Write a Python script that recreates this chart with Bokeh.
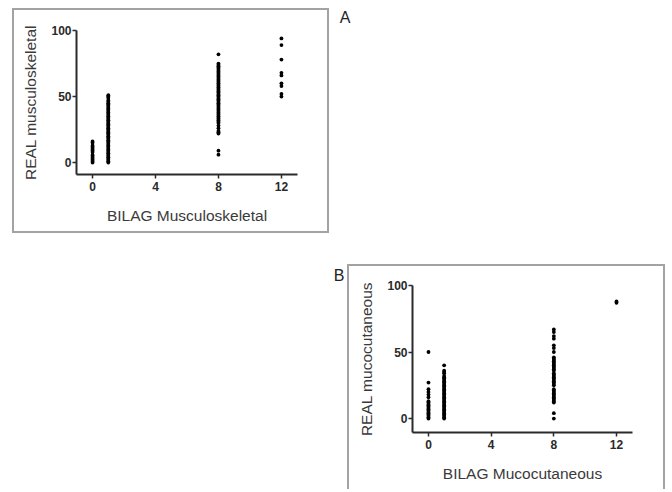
from bokeh.plotting import figure
from bokeh.layouts import column, row
from bokeh.models import Spacer, FixedTicker, ColumnDataSource
from bokeh.embed import file_html
from bokeh.resources import INLINE

FONT = "Liberation Sans"

# ---------------- Data ----------------
# Panel A: REAL musculoskeletal score for each BILAG Musculoskeletal grade
a_grades = [0, 1, 8, 12]
a_real_g0 = [0, 1, 2, 3, 4, 5, 6, 8, 9, 10, 11, 12, 13, 15, 16]
a_real_g1 = [0, 1, 2, 3, 4, 5, 6, 7, 8, 9, 10, 11, 12, 13, 14, 15, 16, 17, 18, 19,
             20, 21, 22, 23, 24, 25, 26, 27, 28, 29, 30, 31, 32, 33, 34, 35, 36, 37,
             38, 39, 40, 41, 42, 43, 44, 45, 46, 47, 49, 50, 51]
a_real_g8 = [6, 9, 22, 23, 24, 26, 28, 30, 31, 32, 33, 34, 35, 36, 37, 38, 39, 40,
             41, 42, 43, 44, 45, 46, 47, 48, 49, 50, 51, 52, 53, 54, 55, 56, 57, 58,
             59, 60, 61, 62, 63, 64, 65, 66, 67, 68, 69, 70, 71, 72, 73, 74, 75, 82]
a_real_g12 = [50, 52, 58, 60, 66, 68, 78, 89, 94]

# Panel B: REAL mucocutaneous score for each BILAG Mucocutaneous grade
b_grades = [0, 1, 8, 12]
b_real_g0 = [0, 1, 2, 3, 4, 5, 6, 7, 8, 9, 10, 11, 12, 13, 16, 18, 20, 22, 27, 50]
b_real_g1 = [0, 1, 2, 3, 4, 5, 6, 7, 8, 9, 10, 11, 12, 13, 14, 15, 16, 17, 18, 19,
             20, 21, 22, 23, 24, 25, 26, 27, 28, 29, 30, 31, 32, 34, 35, 36, 40]
b_real_g8 = [0, 4, 12, 13, 14, 15, 16, 17, 18, 19, 20, 21, 22, 25, 26, 27, 28, 29,
             30, 31, 32, 33, 34, 36, 37, 38, 39, 40, 41, 42, 43, 44, 45, 46, 50, 53,
             55, 60, 62, 65, 67]
b_real_g12 = [87, 88]

x_ticks = [0, 4, 8, 12]
y_ticks = [0, 50, 100]

a_xlabel = "BILAG Musculoskeletal"
a_ylabel = "REAL musculoskeletal"
b_xlabel = "BILAG Mucocutaneous"
b_ylabel = "REAL mucocutaneous"


def build_source(grades, groups):
    xs, ys = [], []
    for g, vals in zip(grades, groups):
        xs += [g] * len(vals)
        ys += list(vals)
    return ColumnDataSource(dict(x=xs, y=ys))


def panel(src, xlabel, ylabel, width, height, y_lo, borders, css):
    p = figure(width=width, height=height, x_range=(-1.02, 13.02), y_range=(y_lo, 100),
               output_backend="svg", toolbar_location=None, title_location=None,
               min_border_left=borders[0], min_border_right=borders[1],
               min_border_top=borders[2], min_border_bottom=borders[3])
    p.styles = css
    p.outline_line_color = None
    p.grid.visible = False
    p.background_fill_color = "white"
    p.border_fill_color = "white"
    p.scatter("x", "y", source=src, size=3.8, color="black", line_color=None)

    for ax in (p.xaxis[0], p.yaxis[0]):
        ax.axis_line_width = 2
        ax.axis_line_color = "#2a2a2a"
        ax.major_tick_line_width = 1.5
        ax.major_tick_line_color = "#2a2a2a"
        ax.major_tick_in = 0
        ax.major_tick_out = 4
        ax.minor_tick_line_color = None
        ax.major_label_text_font = FONT
        ax.major_label_text_font_style = "bold"
        ax.major_label_text_font_size = "12px"
        ax.major_label_text_color = "#2a2a2a"
        ax.axis_label_text_font = FONT
        ax.axis_label_text_font_style = "normal"
        ax.axis_label_text_font_size = "15.5px"
        ax.axis_label_text_color = "#3a3a3a"
    p.xaxis.ticker = FixedTicker(ticks=x_ticks)
    p.yaxis.ticker = FixedTicker(ticks=y_ticks)
    p.xaxis.axis_label = xlabel
    p.yaxis.axis_label = ylabel
    p.xaxis.major_label_standoff = 3
    p.yaxis.major_label_standoff = 1
    p.xaxis.axis_label_standoff = 13
    p.yaxis.axis_label_standoff = 9
    return p


def letter(text, width, height):
    # panel letter drawn as the title of a tiny empty figure
    p = figure(width=width, height=height, title=text, title_location="above",
               output_backend="svg", toolbar_location=None, min_border=0,
               x_axis_location=None, y_axis_location=None)
    p.grid.visible = False
    p.outline_line_color = None
    p.title.text_font = FONT
    p.title.text_font_size = "16px"
    p.title.text_font_style = "normal"
    p.title.text_color = "#222222"
    p.title.align = "center"
    p.title.standoff = 0
    p.title.offset = 0
    return p


srcA = build_source(a_grades, [a_real_g0, a_real_g1, a_real_g8, a_real_g12])
srcB = build_source(b_grades, [b_real_g0, b_real_g1, b_real_g8, b_real_g12])

pA = panel(srcA, a_xlabel, a_ylabel, 317, 225, -9, (62, 34, 20, 61),
           {"border": "2px solid #a3a3a3"})
pB = panel(srcB, b_xlabel, b_ylabel, 318, 225, -10.5, (63, 35, 19, 59),
           {"border-top": "2px solid #a3a3a3", "border-left": "2px solid #a3a3a3",
            "border-right": "2px solid #a3a3a3"})

labA = letter("A", 31, 229)
labB = letter("B", 17, 227)

layout = column(
    Spacer(width=10, height=5),
    row(Spacer(width=12, height=229), pA, labA),
    Spacer(width=10, height=30),
    row(Spacer(width=330, height=227), labB, pB),
)
# shift panel A down so its box top stays at y=8 while its letter rises a little
layout.children[1].children[1].margin = (3, 0, 0, 0)

open("out.html", "w").write(file_html(layout, INLINE))
